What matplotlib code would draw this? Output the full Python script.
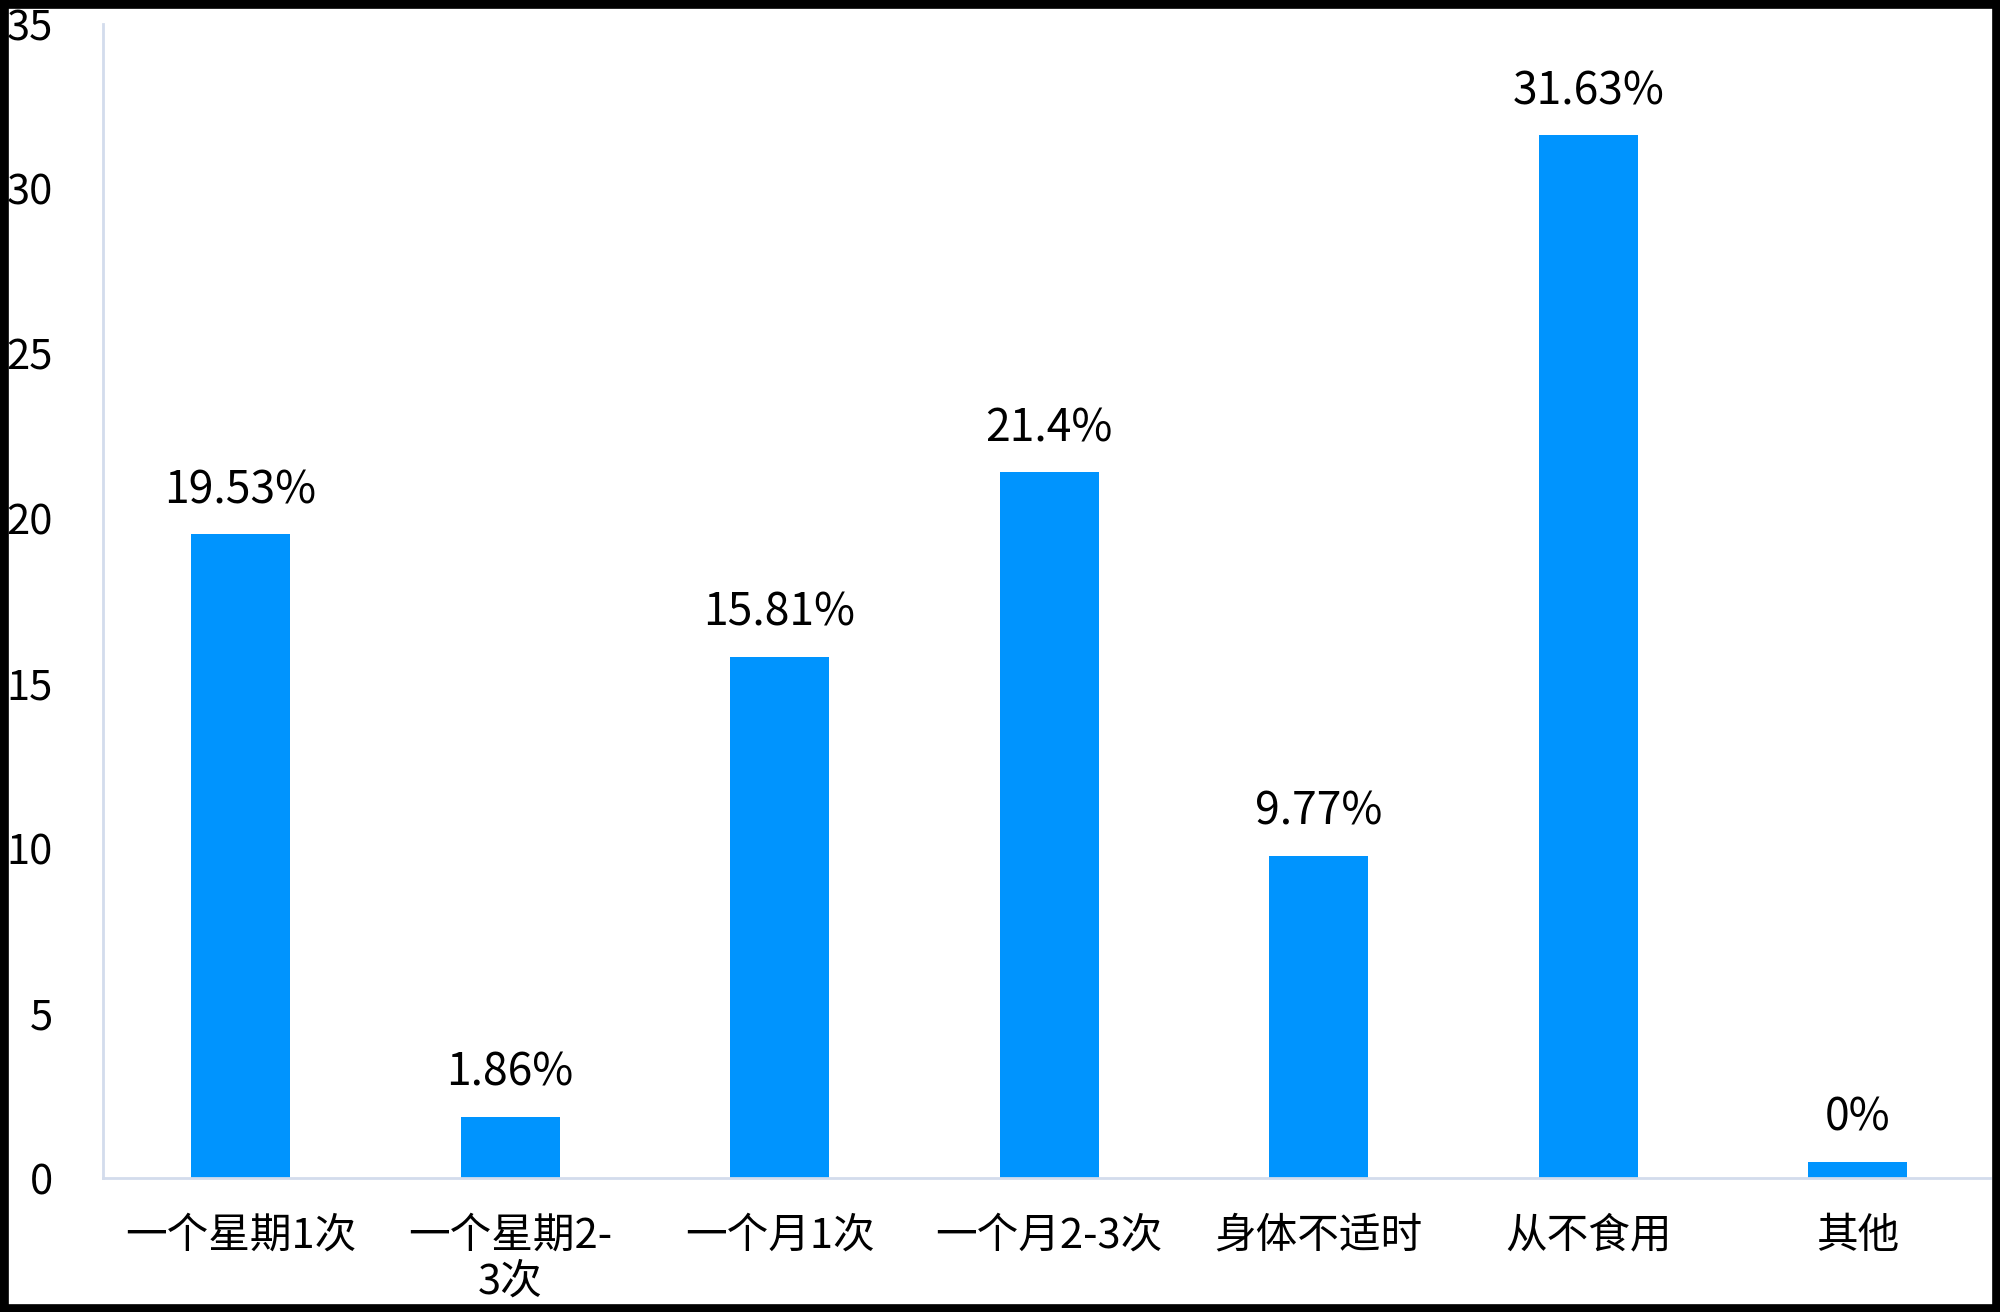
import matplotlib
matplotlib.use("Agg")
import matplotlib.pyplot as plt
from matplotlib.patches import Rectangle

plt.rcParams['font.family'] = ['Noto Sans CJK SC', 'DejaVu Sans']

# ---------- DATA ----------
categories = ["一个星期1次", "一个星期2-\n3次", "一个月1次", "一个月2-3次",
              "身体不适时", "从不食用", "其他"]
heights = [19.53, 1.86, 15.81, 21.4, 9.77, 31.63, 0.5]
value_labels = ["19.53%", "1.86%", "15.81%", "21.4%", "9.77%", "31.63%", "0%"]
y_ticks = [0, 5, 10, 15, 20, 25, 30, 35]

bar_color = "#0094fe"
axis_color = "#d3dcec"

# ---------- FIGURE ----------
fig = plt.figure(figsize=(20, 13.12), dpi=100)
ax = fig.add_axes([0.0515, 0.1021, 0.9435, 0.8796])

x = range(len(categories))
bars = ax.bar(x, heights, width=0.367, color=bar_color, zorder=2)

for rect, lab in zip(bars, value_labels):
    ax.annotate(lab, (rect.get_x() + rect.get_width() / 2, rect.get_height()),
                xytext=(0, 31), textcoords="offset pixels",
                ha="center", va="baseline", fontsize=32, color="black")

ax.set_xlim(-0.51, len(categories) - 0.51)
ax.set_ylim(0, 35)
ax.set_yticks(y_ticks)
ax.set_yticklabels([str(t) for t in y_ticks])
ax.set_xticks(list(x))
ax.set_xticklabels(categories, linespacing=1.15)

ax.tick_params(axis="y", length=0, pad=36, labelsize=30, labelcolor="black")
ax.tick_params(axis="x", length=0, pad=27, labelsize=30, labelcolor="black")

for side in ["top", "right"]:
    ax.spines[side].set_visible(False)
for side in ["left", "bottom"]:
    ax.spines[side].set_color(axis_color)
    ax.spines[side].set_linewidth(2)

# black frame round the picture
fig.add_artist(Rectangle((0, 0), 1, 1, transform=fig.transFigure, fill=False,
                         edgecolor="black", linewidth=12, zorder=10))

fig.savefig("out.png", dpi=100, facecolor="white")
